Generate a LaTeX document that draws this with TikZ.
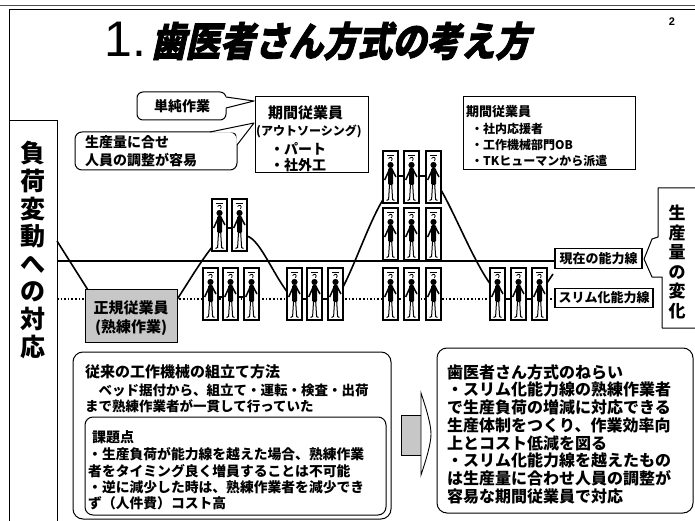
\documentclass[tikz,border=0pt]{standalone}
\usepackage{fontspec}
\setmainfont{Noto Sans CJK JP}
\newfontfamily\latinsans{Liberation Sans}
\newfontfamily\headjp{Noto Sans CJK JP}[FakeSlant=0.22,FakeStretch=0.86,FakeBold=2]
\newcommand\setpx[2]{\fontsize{#1pt}{#2pt}\selectfont}
\begin{document}
\begin{tikzpicture}[x=1pt,y=-1pt,
  txt/.style={inner sep=0pt,anchor=west,font=\bfseries},
  ctxt/.style={inner sep=0pt,font=\bfseries},
  boxline/.style={line width=1pt},
  handlink/.style={line width=1.3pt},
  loadcurve/.style={line width=1.6pt,line join=round},
  capline/.style={line width=1.3pt},
  slimline/.style={line width=1.4pt,dash pattern=on 1.6pt off 2pt},
  lblbox/.style={draw,line width=1.1pt,fill=white,inner sep=0pt,font=\bfseries\setpx{13}{13}},
  stipple/.style={fill=black!22},
  worker/.pic={
    \draw[fill=white,line width=1.1pt] (0,0) rectangle (15,52);
    \draw[line width=0.6pt] (4,4) -- (11,4);
    \draw[line width=0.8pt] (5.5,7.5) .. controls (7.5,5) and (10.5,6.5) .. (8.5,10);
    \fill (7.5,14) circle (3.1);
    \fill[rounded corners=1.2pt] (5.2,17) rectangle (10,34);
    \draw[line width=1.5pt] (6,19.5) -- (2.8,26.5) -- (1.6,29);
    \draw[line width=1.5pt] (9.5,19.5) -- (13,26);
    \draw[line width=1pt] (6.6,32) -- (5.6,48.5) -- (3.6,49.5);
    \draw[line width=1pt] (8.6,32) -- (9.6,48.5) -- (11.4,49.5);
  }]

\useasboundingbox (0,0) rectangle (695,521);
\fill[white] (0,0) rectangle (695,521);

% page frame
\draw[line width=1.6pt,black!70] (0,5.5) -- (695,5.5);
\draw[boxline] (9,9.5) -- (695,9.5);
\draw[boxline] (9,9.5) -- (9,521);

% title and page number
\node[inner sep=0pt,anchor=base west,font=\latinsans\setpx{50}{50}] (titlenum) at (104,57) {1.};
\node[inner sep=0pt,anchor=west,font=\headjp\bfseries\setpx{40}{40}] (titletext) at (151,41) {歯医者さん方式の考え方};
\node[inner sep=0pt,font=\latinsans\bfseries\setpx{11}{11}] (pagenum) at (672,22) {2};

% left column
\draw[boxline] (9,121) -- (57,121) -- (57,521);
\node[inner sep=0pt,align=center,font=\bfseries\setpx{25}{27.6}] (leftcol) at (33,250) {負\\荷\\変\\動\\へ\\の\\対\\応};

% right column with pointer between the two capacity labels
\draw[boxline,line join=round] (695,188) -- (658,188) -- (658,237) -- (652,239) -- (644,259) -- (652,277) -- (662,277) -- (662,328) -- (695,328);
\node[inner sep=0pt,align=center,font=\bfseries\setpx{17}{19.6}] (rightcol) at (677,262) {生\\産\\量\\の\\変\\化};

% capacity lines
\node[lblbox,minimum width=87pt,minimum height=20pt] (curcap) at (598.5,258.5) {現在の能力線};
\node[lblbox,minimum width=98pt,minimum height=19pt] (slimcap) at (604,298) {スリム化能力線};
\coordinate (curstart) at (57,261);
\coordinate (slimstart) at (57,299);
\draw[capline] (curstart) -- (curcap.west |- curstart);
\draw[slimline] (slimstart) -- (slimcap.west |- slimstart);

% production load
\draw[loadcurve] (57,241) -- (88,290) -- (130,300) -- (176,301)
  .. controls (188,283) and (200,262) .. (213,246)
  -- (215,228) -- (245,228) -- (247,236)
  .. controls (260,240) and (272,272) .. (288,293)
  -- (290,299) -- (341,299) -- (343,287)
  .. controls (356,262) and (370,220) .. (384,198)
  -- (386,176) -- (439,176) -- (441,190)
  .. controls (455,214) and (474,262) .. (491,285)
  -- (493,299) -- (545,299) -- (547,283) -- (553,274);

% workers
\foreach \x in {212,232} \pic at (\x,199) {worker};
\foreach \x in {203,223,244} \pic at (\x,268) {worker};
\foreach \x in {287,307,328} \pic at (\x,268) {worker};
\foreach \y in {151,208,268}{\foreach \x in {383,404,426} \pic at (\x,\y) {worker};}
\foreach \x in {490,511,532} \pic at (\x,268) {worker};
\foreach \x in {218,239} \draw[handlink] (\x,297) -- ++(5,0);
\foreach \x in {227} \draw[handlink] (\x,228) -- ++(5,0);
\foreach \x in {302,323} \draw[handlink] (\x,299) -- ++(5,0);
\foreach \x in {398,420} \draw[handlink] (\x,176) -- ++(6,0);
\foreach \x in {505,526} \draw[handlink] (\x,299) -- ++(6,0);

% regular staff
\draw[boxline,stipple] (85,289) rectangle (177,342);
\node[ctxt,font=\bfseries\setpx{15}{15}] (regular1) at (131,308) {正規従業員};
\node[ctxt,font=\bfseries\setpx{15}{15}] (regular2) at (131,328) {(熟練作業)};

% speech bubbles
\draw[boxline,fill=white,rounded corners=6pt] (137,92) rectangle (226,120);
\fill[white] (225,96.6) -- (254,101) -- (225,108.4) -- cycle;
\draw[boxline,line join=round] (226,97) -- (254,101) -- (226,108);
\node[ctxt,font=\bfseries\setpx{14}{14}] (simplework) at (182,106) {単純作業};

\draw[boxline,fill=white,rounded corners=7pt] (75,132) rectangle (237,170);
\fill[white] (210,132.6) -- (254,123) -- (236.4,145) -- (236.4,132.6) -- cycle;
\draw[boxline,line join=round] (210,132) -- (254,123) -- (237,145);
\node[txt,font=\bfseries\setpx{14}{14}] (adjust1) at (85,142) {生産量に合せ};
\node[txt,font=\bfseries\setpx{14}{14}] (adjust2) at (85,160) {人員の調整が容易};

% temporary staff boxes
\draw[boxline] (255,97) rectangle (368,173);
\node[txt,font=\bfseries\setpx{15}{15}] (temp1) at (268,113) {期間従業員};
\node[txt,font=\bfseries\setpx{12}{12}] (temp2) at (256,131) {(アウトソーシング)};
\node[txt,font=\bfseries\setpx{14}{14}] (temp3) at (270,149) {・パート};
\node[txt,font=\bfseries\setpx{14}{14}] (temp4) at (270,165) {・社外工};

\draw[boxline] (463,97) rectangle (635,170);
\node[txt,font=\bfseries\setpx{13}{13}] (tempb1) at (466,112) {期間従業員};
\node[txt,font=\bfseries\setpx{12}{12}] (tempb2) at (471,129) {・社内応援者};
\node[txt,font=\bfseries\setpx{12}{12}] (tempb3) at (471,145) {・工作機械部門OB};
\node[txt,font=\bfseries\setpx{12}{12}] (tempb4) at (471,161) {・TKヒューマンから派遣};

% conventional method
\draw[boxline,rounded corners=10pt] (73,352) rectangle (391,519);
\node[txt,font=\bfseries\setpx{15}{15}] (conv1) at (85,372) {従来の工作機械の組立て方法};
\node[txt,font=\bfseries\setpx{13.5}{13.5}] (conv2) at (85,390) {　ベッド据付から、組立て・運転・検査・出荷};
\node[txt,font=\bfseries\setpx{13.5}{13.5}] (conv3) at (85,406) {まで熟練作業者が一貫して行っていた};
\draw[boxline,rounded corners=8pt] (85,417) rectangle (386,515);
\node[txt,font=\bfseries\setpx{14}{14}] (issue0) at (92,437) {課題点};
\node[txt,font=\bfseries\setpx{13.8}{13.8}] (issue1) at (88,454) {・生産負荷が能力線を越えた場合、熟練作業};
\node[txt,font=\bfseries\setpx{13.8}{13.8}] (issue2) at (88,471) {者をタイミング良く増員することは不可能};
\node[txt,font=\bfseries\setpx{13.8}{13.8}] (issue3) at (88,487) {・逆に減少した時は、熟練作業者を減少でき};
\node[txt,font=\bfseries\setpx{13.8}{13.8}] (issue4) at (88,503) {ず（人件費）コスト高};

% block arrow
\draw[line width=0.8pt,stipple] (401,415) rectangle (421,455);
\draw[line width=0.9pt,fill=white] (421,393) .. controls (426,408) and (431,424) .. (431,434)
  .. controls (431,444) and (426,460) .. (421,475) -- cycle;

% aim of the dentist method
\draw[boxline,rounded corners=10pt] (437,348) rectangle (693,513);
\foreach \t [count=\i] in {歯医者さん方式のねらい,・スリム化能力線の熟練作業者,で生産負荷の増減に対応できる,生産体制をつくり、作業効率向,上とコスト低減を図る,・スリム化能力線を越えたもの,は生産量に合わせ人員の調整が,容易な期間従業員で対応}{
  \node[txt,font=\bfseries\setpx{16}{16}] (aim\i) at (447,354.5+17.7*\i) {\t};
}
\end{tikzpicture}
\end{document}
